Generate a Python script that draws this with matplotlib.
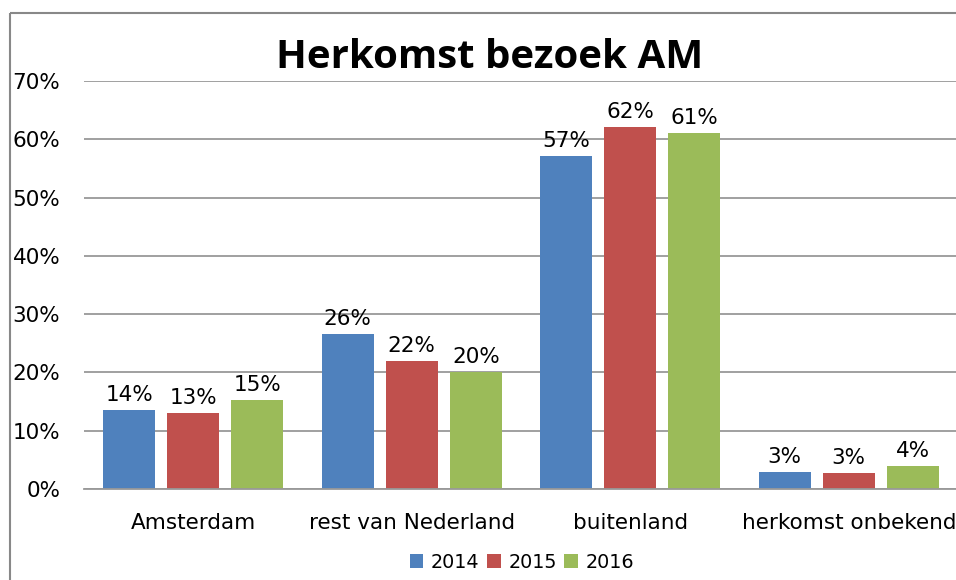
import matplotlib
matplotlib.use("Agg")
import matplotlib.pyplot as plt
import numpy as np
from matplotlib.lines import Line2D
from matplotlib.patches import Patch

categories = ["Amsterdam", "rest van Nederland", "buitenland", "herkomst onbekend"]
years = ["2014", "2015", "2016"]
v2014 = [0.135, 0.266, 0.571, 0.029]
v2015 = [0.130, 0.220, 0.621, 0.027]
v2016 = [0.153, 0.201, 0.611, 0.039]
labels2014 = ["14%", "26%", "57%", "3%"]
labels2015 = ["13%", "22%", "62%", "3%"]
labels2016 = ["15%", "20%", "61%", "4%"]
yticks = [0, 0.1, 0.2, 0.3, 0.4, 0.5, 0.6, 0.7]
ytick_labels = ["0%", "10%", "20%", "30%", "40%", "50%", "60%", "70%"]
title = "Herkomst bezoek AM"

colors = ["#4F81BD", "#C0504D", "#9BBB59"]
W, H = 956, 580
fig = plt.figure(figsize=(W / 100, H / 100), dpi=100)
fig.patch.set_facecolor("white")

# chart border (cropped at right/bottom): left and top edges only
bx, by = 9.5 / W, (H - 12.5) / H
fig.add_artist(Line2D([bx, bx], [0.0, by], transform=fig.transFigure,
                      color="#888888", linewidth=1.5, solid_capstyle="butt"))
fig.add_artist(Line2D([bx, 0.9995], [by, by], transform=fig.transFigure,
                      color="#888888", linewidth=1.5, solid_capstyle="butt"))

ax = fig.add_axes([84 / W, (H - 489) / H, (958 - 84) / W, (489 - 81) / H])
ax.set_ylim(0, 0.7)
ax.set_xlim(-0.5, 3.5)

x = np.arange(len(categories))
off = 0.293
bw = 0.238
series = [v2014, v2015, v2016]
lab = [labels2014, labels2015, labels2016]
for i, (vals, ls) in enumerate(zip(series, lab)):
    xs = x + (i - 1) * off
    ax.bar(xs, vals, width=bw, color=colors[i], zorder=3, label=years[i])
    for xx, vv, tt in zip(xs, vals, ls):
        ax.text(xx, vv + 0.009, tt, ha="center", va="bottom", fontsize=15.5,
                family="DejaVu Sans", color="black", zorder=4)

ax.set_yticks(yticks)
ax.set_yticklabels(ytick_labels, fontsize=15.5, family="DejaVu Sans")
ax.set_xticks(x)
ax.set_xticklabels(categories, fontsize=15.5, family="DejaVu Sans")
ax.tick_params(axis="y", length=0, pad=17)
ax.tick_params(axis="x", length=0, pad=17.5)
ax.grid(axis="y", color="#999999", linewidth=1.3, zorder=0)
for s in ["top", "right", "left"]:
    ax.spines[s].set_visible(False)
ax.spines["bottom"].set_color("#999999")
ax.spines["bottom"].set_linewidth(1.3)
ax.spines["bottom"].set_zorder(5)

fig.text(490 / W, (H - 68) / H, title, ha="center", va="baseline",
         fontsize=29, fontweight="bold", family="Open Sans", color="black")

handles = [Patch(facecolor=c) for c in colors]
fig.legend(handles, years, loc="center", bbox_to_anchor=(522 / W, (H - 562) / H),
           ncol=3, frameon=False, handlelength=0.7, handleheight=0.7,
           handletextpad=0.4, columnspacing=0.4,
           prop={"family": "DejaVu Sans", "size": 13.8})

fig.savefig("out.png", dpi=100)
